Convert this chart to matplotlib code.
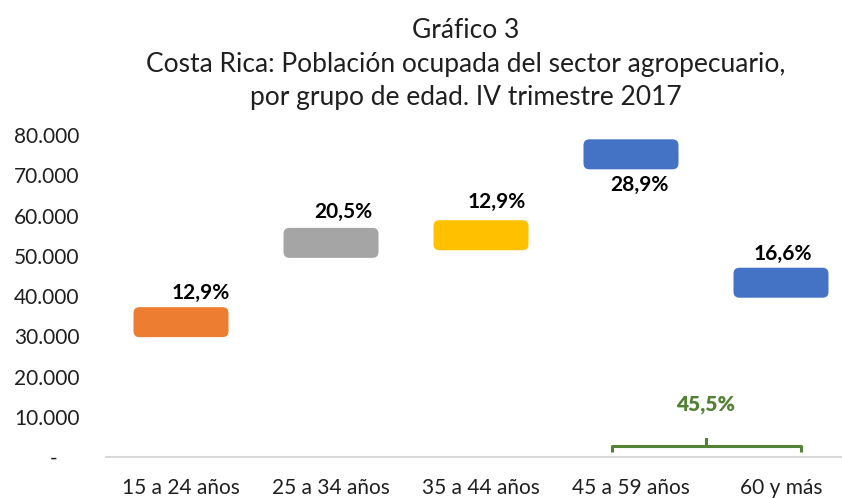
import matplotlib

matplotlib.use("Agg")
import matplotlib.pyplot as plt
from matplotlib.patches import FancyBboxPatch
from matplotlib.ticker import FuncFormatter

# Datos: población ocupada del sector agropecuario por grupo de edad
grupos = ["15 a 24 años", "25 a 34 años", "35 a 44 años", "45 a 59 años", "60 y más"]
ocupados = [33500, 53200, 55100, 75200, 43300]
etiquetas = ["12,9%", "20,5%", "12,9%", "28,9%", "16,6%"]
pct_grupo_mayor = [28.9, 16.6]  # 45 a 59 años + 60 y más
idx_grupo_mayor = [3, 4]

colores = ["#ED7D31", "#A5A5A5", "#FFC000", "#4472C4", "#4472C4"]
# desplazamiento de cada etiqueta respecto al centro de la caja (puntos)
offsets = [(14, 21), (9, 22), (11, 24), (6, -22), (1, 21)]

plt.rcParams["font.family"] = ["Lato", "DejaVu Sans"]
TXT = "#1f1f1f"
VERDE = "#548235"

fig = plt.figure(figsize=(8.42, 4.98), dpi=100)
ax = fig.add_axes([106 / 842, 41 / 498, 750 / 842, 322 / 498])

ax.set_xlim(-0.5, len(grupos) - 0.5)
ax.set_ylim(0, 80000)
ax.set_yticks(range(0, 80001, 10000))
ax.yaxis.set_major_formatter(FuncFormatter(
    lambda v, _: "-    " if v == 0 else f"{v:,.0f}".replace(",", ".")))
ax.set_xticks(range(len(grupos)))
ax.set_xticklabels(grupos)
ax.tick_params(axis="y", length=0, pad=19, labelsize=15, labelcolor=TXT)
ax.tick_params(axis="x", length=0, pad=15, labelsize=15, labelcolor=TXT)

for s in ["top", "right", "left"]:
    ax.spines[s].set_visible(False)
ax.spines["bottom"].set_color("#D9D9D9")
ax.spines["bottom"].set_linewidth(1.5)

# relación píxeles por unidad para redondear las esquinas igual en x e y
fig.canvas.draw()
p0 = ax.transData.transform((0, 0))
p1 = ax.transData.transform((1, 10000))
px_x = p1[0] - p0[0]
px_y = (p1[1] - p0[1]) / 10000
aspecto = px_x / px_y

ancho = 95 / px_x
alto = 30 / px_y
radio = 6 / px_x

for i, (v, c) in enumerate(zip(ocupados, colores)):
    caja = FancyBboxPatch((i - ancho / 2, v - alto / 2), ancho, alto,
                          boxstyle=f"round,pad=0,rounding_size={radio}",
                          mutation_aspect=aspecto, facecolor=c, edgecolor="none",
                          clip_on=False, zorder=3)
    ax.add_patch(caja)
    ax.annotate(etiquetas[i], (i, v), xytext=offsets[i], textcoords="offset points",
                ha="center", va="center", fontsize=15, fontweight="bold", color="black")

# llave verde bajo los dos grupos de mayor edad
x0 = idx_grupo_mayor[0] - 0.13
x1 = idx_grupo_mayor[1] + 0.13
xm = (x0 + x1) / 2
y_barra = 11 / px_y
y_punta = 5 / px_y
y_pico = 18 / px_y
ax.plot([x0, x0, x1, x1], [y_punta, y_barra, y_barra, y_punta], color=VERDE,
        lw=2.2, solid_joinstyle="round", solid_capstyle="butt", clip_on=False)
ax.plot([xm, xm], [y_barra, y_pico], color=VERDE, lw=2.2, clip_on=False)
total = f"{sum(pct_grupo_mayor):.1f}%".replace(".", ",")
ax.text(xm, 53 / px_y, total, ha="center", va="center", fontsize=15,
        fontweight="heavy", color=VERDE)

fx = 466 / 842
fig.text(fx, 1 - 38 / 498, "Gráfico 3", ha="center", va="baseline", fontsize=19, color=TXT)
fig.text(fx, 1 - 72 / 498, "Costa Rica: Población ocupada del sector agropecuario,",
         ha="center", va="baseline", fontsize=19, color=TXT)
fig.text(fx, 1 - 105 / 498, "por grupo de edad. IV trimestre 2017",
         ha="center", va="baseline", fontsize=19, color=TXT)

fig.savefig("out.png", dpi=100)
